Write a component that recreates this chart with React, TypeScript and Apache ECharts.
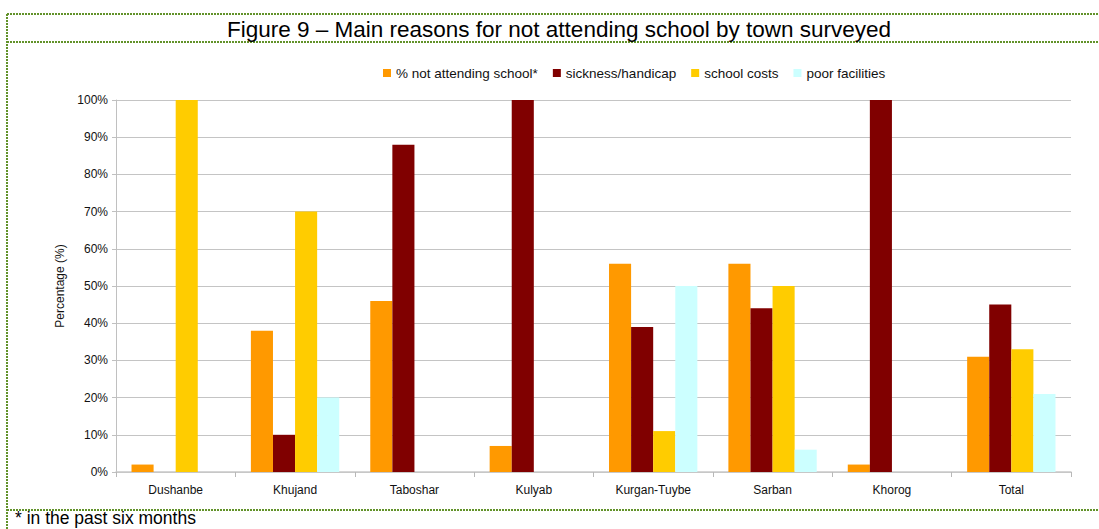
import React, { useEffect, useRef } from "react";
import * as echarts from "echarts";

const FONT = 'Arial, "Liberation Sans", sans-serif';

// Towns surveyed (x-axis categories)
const towns = [
  "Dushanbe",
  "Khujand",
  "Taboshar",
  "Kulyab",
  "Kurgan-Tuybe",
  "Sarban",
  "Khorog",
  "Total",
];

// Shares in percent, one value per town
const notAttending = [2, 38, 46, 7, 56, 56, 2, 31];
const sickness = [0, 10, 88, 100, 39, 44, 100, 45];
const schoolCosts = [100, 70, 0, 0, 11, 50, 0, 33];
const poorFacilities = [0, 20, 0, 0, 50, 6, 0, 21];

const seriesNames = [
  "% not attending school*",
  "sickness/handicap",
  "school costs",
  "poor facilities",
];
const seriesColors = ["#FF9900", "#800000", "#FFCC00", "#CCFFFF"];
const seriesValues = [notAttending, sickness, schoolCosts, poorFacilities];

const titleText = "Figure 9 \u2013 Main reasons for not attending school by town surveyed";
const footnoteText = "* in the past six months";
const yAxisTitle = "Percentage (%)";

const W = 1099;
const H = 529;
const frameColor = "#62922a";

function dottedLine(x1: number, y1: number, x2: number, y2: number) {
  return {
    type: "line",
    silent: true,
    shape: { x1, y1, x2, y2 },
    style: { stroke: frameColor, lineWidth: 2, lineDash: [2, 1] },
  };
}

export default function App() {
  const ref = useRef<HTMLDivElement>(null);

  useEffect(() => {
    if (!ref.current) return;
    const chart = echarts.init(ref.current, undefined, { renderer: "svg" });

    chart.setOption({
      animation: false,
      backgroundColor: "#ffffff",
      textStyle: { fontFamily: FONT },
      legend: {
        left: 378,
        top: 61,
        itemWidth: 8,
        itemHeight: 8,
        itemGap: 15,
        icon: "rect",
        textStyle: { fontSize: 13.5, color: "#111", fontFamily: FONT },
        data: seriesNames,
      },
      grid: { left: 116, right: 28, top: 100, bottom: 57, containLabel: false },
      xAxis: {
        type: "category",
        data: towns,
        axisLine: { lineStyle: { color: "#c8c8c8", width: 1.5 } },
        axisTick: { show: true, alignWithLabel: false, length: 5, lineStyle: { color: "#b8b8b8" } },
        axisLabel: { color: "#111", fontSize: 12, fontFamily: FONT, margin: 12 },
      },
      yAxis: {
        type: "value",
        min: 0,
        max: 100,
        interval: 10,
        name: yAxisTitle,
        nameLocation: "middle",
        nameGap: 50,
        nameRotate: 90,
        nameTextStyle: { color: "#111", fontSize: 12, fontFamily: FONT },
        axisLine: { show: true, lineStyle: { color: "#c0c0c0" } },
        axisTick: { show: true, length: 4, lineStyle: { color: "#c0c0c0" } },
        axisLabel: { formatter: "{value}%", color: "#111", fontSize: 12, fontFamily: FONT, margin: 8 },
        splitLine: { lineStyle: { color: "#c4c4c4", width: 1 } },
      },
      series: seriesNames.map((name, i) => ({
        name,
        type: "bar",
        data: seriesValues[i],
        itemStyle: { color: seriesColors[i] },
        barGap: "0%",
        barCategoryGap: "26%",
      })),
      graphic: [
        dottedLine(7, 14, W, 14),
        dottedLine(7, 42, W, 42),
        dottedLine(7, 510, W, 510),
        dottedLine(7, 14, 7, H),
        {
          type: "text",
          silent: true,
          x: 559,
          y: 29,
          style: {
            text: titleText,
            font: `22.5px ${FONT}`,
            fill: "#000",
            align: "center",
            verticalAlign: "middle",
          },
        },
        {
          type: "text",
          silent: true,
          x: 15,
          y: 527,
          style: {
            text: footnoteText,
            font: `17.5px ${FONT}`,
            fill: "#000",
            align: "left",
            verticalAlign: "bottom",
          },
        },
      ],
    });

    return () => chart.dispose();
  }, []);

  return (
    <div
      ref={ref}
      style={{ position: "fixed", left: 0, top: 0, width: W, height: H }}
    />
  );
}
